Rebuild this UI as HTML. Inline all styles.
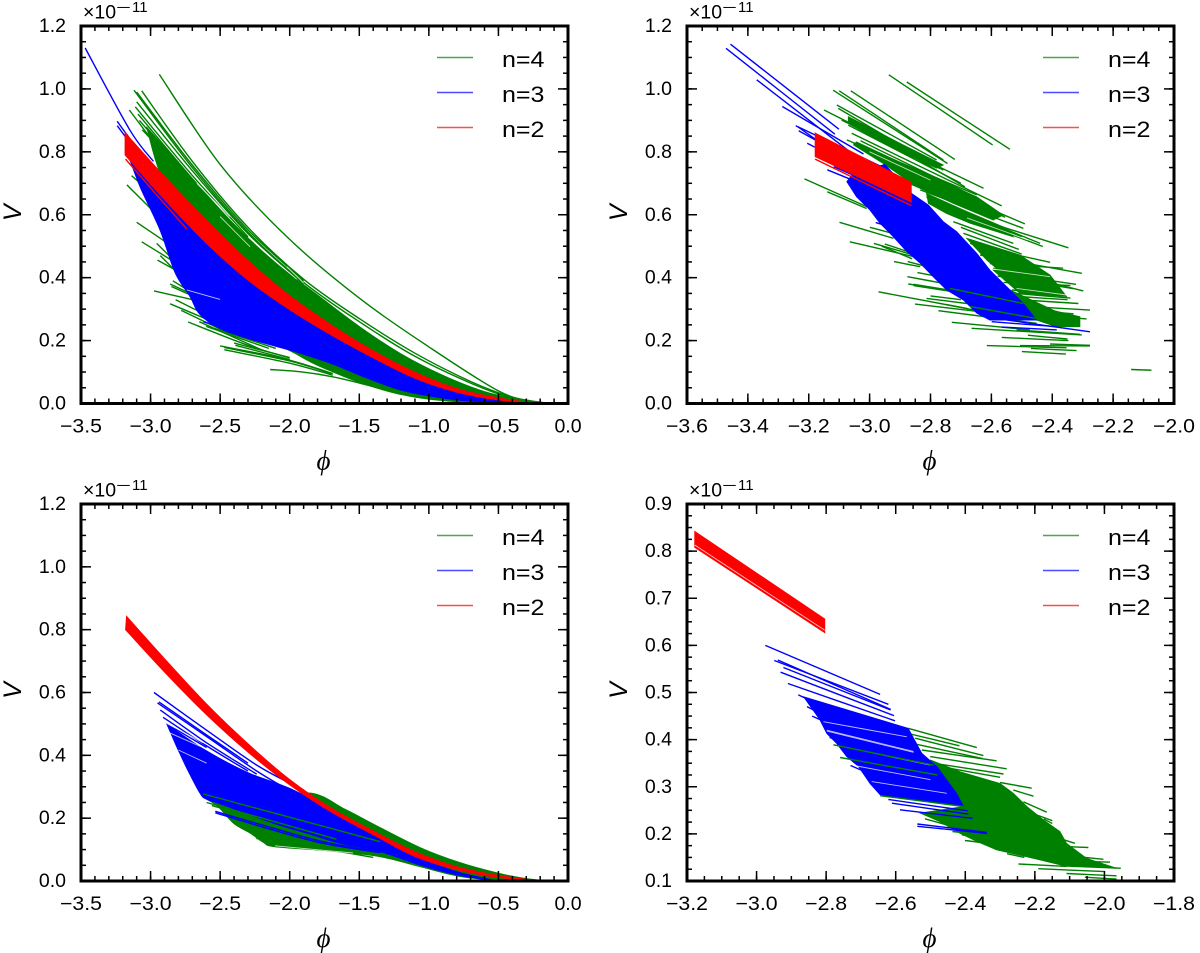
<!DOCTYPE html>
<html>
<head>
<meta charset="utf-8">
<title>Potential V versus phi for n=2,3,4</title>
<style>
html,body{margin:0;padding:0;background:#fff;}
svg{display:block;}
text{font-family:"Liberation Sans",sans-serif;fill:#000;}
</style>
</head>
<body>
<svg id="fig" xmlns="http://www.w3.org/2000/svg" width="1200" height="953" viewBox="0 0 1200 953"></svg>
<script>
/* ---------- values: phi, V(×1e-11) pairs ---------- */
const seriesNames = ["n=4", "n=3", "n=2"];

const panel1XTicks = [-3.5,-3.0,-2.5,-2.0,-1.5,-1.0,-0.5,0.0];
const panel1YTicks = [0.0,0.2,0.4,0.6,0.8,1.0,1.2];
const panel2XTicks = [-3.6,-3.4,-3.2,-3.0,-2.8,-2.6,-2.4,-2.2,-2.0];
const panel2YTicks = [0.0,0.2,0.4,0.6,0.8,1.0,1.2];
const panel3XTicks = [-3.5,-3.0,-2.5,-2.0,-1.5,-1.0,-0.5,0.0];
const panel3YTicks = [0.0,0.2,0.4,0.6,0.8,1.0,1.2];
const panel4XTicks = [-3.2,-3.0,-2.8,-2.6,-2.4,-2.2,-2.0,-1.8];
const panel4YTicks = [0.1,0.2,0.3,0.4,0.5,0.6,0.7,0.8,0.9];

/* Panel 1: curved bands are [upper edge, lower edge] */
const panel1GreenBands = [
 [[-3.03,0.88,-2.7,0.715,-2.4,0.57,-2.1,0.447,-1.8,0.345,-1.5,0.245,-1.2,0.158,-0.9,0.09,-0.6,0.038,-0.3,0.008,-0.13,0],
  [-3.03,0.88,-2.9,0.70,-2.6,0.50,-2.3,0.26,-1.926,0.15,-1.69,0.10,-1.447,0.059,-1.207,0.029,-0.97,0.012,-0.6,0.001,-0.13,0]]
];
const panel1GreenLines = [
 [-2.937,1.046,-2.5,0.76,-2.02,0.53,-1.5,0.335,-1.0,0.18,-0.5,0.04,-0.25,0.006,-0.13,0],
 [-3.064,0.994,-2.7,0.77,-2.3,0.56,-1.9,0.395,-1.5,0.27,-1.1,0.16,-0.7,0.07,-0.4,0.02,-0.13,0],
 [-3.119,0.996,-2.7,0.75,-2.3,0.545,-1.9,0.385,-1.5,0.26,-1.1,0.15,-0.7,0.065,-0.4,0.017,-0.13,0],
 [-3.10,0.99,-2.7,0.758,-2.3,0.552,-1.9,0.39],
 [-3.10,0.959,-2.7,0.74,-2.3,0.54,-1.9,0.38],
 [-3.11,0.943,-2.7,0.725,-2.3,0.53],
 [-3.153,0.933,-2.8,0.73,-2.4,0.53],
 [-3.09,0.92,-2.7,0.715,-2.3,0.52,-1.9,0.37],
 [-3.08,0.90,-2.7,0.705,-2.3,0.51],
 [-3.06,0.87,-2.7,0.70,-2.3,0.505],
 [-3.136,0.724,-3.004,0.673],
 [-3.17,0.695,-3.0,0.62],
 [-3.10,0.576,-2.84,0.498],
 [-3.064,0.514,-2.85,0.456],
 [-2.956,0.509,-2.86,0.467],
 [-2.95,0.456,-2.82,0.424],
 [-2.93,0.47,-2.84,0.43],
 [-2.86,0.38,-2.74,0.355],
 [-2.85,0.372,-2.73,0.348],
 [-2.84,0.39,-2.73,0.36],
 [-2.975,0.358,-2.705,0.331],
 [-2.86,0.317,-2.50,0.25],
 [-2.82,0.33,-2.55,0.27],
 [-2.78,0.296,-2.40,0.215],
 [-2.73,0.259,-2.30,0.185,-2.0,0.145],
 [-2.65,0.26,-2.20,0.17],
 [-2.60,0.245,-2.15,0.175],
 [-2.55,0.24,-2.10,0.175],
 [-2.50,0.183,-2.02,0.14,-1.69,0.095],
 [-2.47,0.171,-2.0,0.128,-1.69,0.09],
 [-2.47,0.178,-2.0,0.135,-1.7,0.095],
 [-2.40,0.192,-2.0,0.146],
 [-2.39,0.185,-2.0,0.14],
 [-2.14,0.108,-1.926,0.101,-1.69,0.085,-1.447,0.059,-1.207,0.03]
];
const panel1GreenGaps = [
 [-2.668,0.70,-2.43,0.594],
 [-2.5,0.594,-2.285,0.498],
 [-2.2,0.49,-1.95,0.395],
 [-2.02,0.435,-1.9,0.383]
];
const panel1BlueBands = [
 [[-3.17,0.80,-2.9,0.68,-2.6,0.54,-2.3,0.42,-2.0,0.32,-1.7,0.235,-1.4,0.155,-1.1,0.09,-0.8,0.04,-0.5,0.012,-0.3,0],
  [-3.17,0.80,-3.076,0.689,-2.932,0.551,-2.824,0.415,-2.717,0.34,-2.65,0.285,-2.51,0.24,-2.29,0.205,-1.926,0.16,-1.69,0.125,-1.447,0.081,-1.207,0.043,-0.97,0.022,-0.727,0.008,-0.3,0]]
];
const panel1BlueLines = [
 [-3.47,1.13,-3.15,0.87,-2.98,0.77],
 [-3.24,0.897,-3.05,0.78],
 [-3.24,0.883,-3.05,0.77],
 [-3.17,0.855,-3.0,0.74],
 [-3.12,0.745,-2.85,0.60,-2.6,0.49],
 [-2.62,0.26,-2.2,0.20]
];
const panel1BlueGaps = [
 [-2.74,0.361,-2.50,0.331]
];
const panel1RedBands = [
 [[-3.184,0.861,-2.9,0.722,-2.6,0.585,-2.3,0.455,-2.0,0.343,-1.7,0.25,-1.4,0.168,-1.1,0.10,-0.8,0.048,-0.5,0.018,-0.2,0],
  [-3.184,0.79,-2.9,0.648,-2.6,0.51,-2.3,0.392,-2.0,0.298,-1.7,0.217,-1.4,0.145,-1.1,0.08,-0.8,0.036,-0.5,0.011,-0.2,0]]
];
const panel1RedLines = [
 [-3.18,0.777,-2.95,0.66,-2.74,0.555]
];

/* Panel 2 */
const panel2GreenBands = [
 [-3.07,0.912,-2.9,0.827,-2.758,0.758,-2.78,0.748,-2.911,0.806,-3.07,0.89],
 [-3.043,0.832,-2.834,0.737,-2.648,0.657,-2.561,0.599,-2.594,0.583,-2.725,0.636,-2.845,0.689,-2.955,0.763,-3.053,0.822],
 [-2.813,0.668,-2.692,0.615,-2.55,0.557,-2.528,0.53,-2.67,0.573,-2.747,0.604,-2.807,0.636],
 [-2.681,0.525,-2.506,0.472,-2.407,0.408,-2.451,0.387,-2.539,0.393,-2.615,0.456],
 [-2.594,0.424,-2.407,0.408,-2.353,0.34,-2.506,0.35],
 [-2.539,0.361,-2.375,0.287,-2.386,0.244,-2.451,0.265],
 [-2.451,0.308,-2.309,0.276,-2.309,0.244,-2.396,0.244]
];
const panel2GreenLines = [
 [-2.937,1.045,-2.596,0.822],
 [-2.878,1.022,-2.539,0.808],
 [-3.062,0.994,-2.72,0.776],
 [-3.12,0.996,-2.744,0.763],
 [-3.10,0.994,-2.758,0.774],
 [-3.15,0.933,-2.769,0.747],
 [-3.108,0.949,-2.78,0.774],
 [-3.103,0.938,-2.758,0.742],
 [-3.092,0.901,-2.626,0.684],
 [-3.059,0.859,-2.566,0.628],
 [-2.977,0.853,-2.687,0.689],
 [-3.075,0.838,-2.648,0.663],
 [-3.053,0.827,-2.555,0.592],
 [-3.07,0.885,-2.70,0.70],
 [-3.03,0.835,-2.65,0.655],
 [-2.955,0.763,-2.49,0.571],
 [-2.90,0.72,-2.58,0.60],
 [-2.87,0.70,-2.60,0.59],
 [-2.834,0.679,-2.495,0.557],
 [-2.813,0.657,-2.44,0.509],
 [-2.79,0.64,-2.50,0.53],
 [-2.747,0.615,-2.431,0.499],
 [-2.703,0.604,-2.347,0.495],
 [-2.725,0.578,-2.528,0.509],
 [-2.70,0.56,-2.51,0.49],
 [-2.692,0.541,-2.50,0.475],
 [-2.648,0.50,-2.407,0.449],
 [-2.67,0.509,-2.484,0.445],
 [-2.637,0.472,-2.303,0.414],
 [-2.605,0.445,-2.364,0.43],
 [-2.594,0.43,-2.298,0.358],
 [-2.572,0.414,-2.322,0.379],
 [-2.58,0.405,-2.33,0.365],
 [-2.56,0.385,-2.34,0.375],
 [-2.533,0.361,-2.358,0.345],
 [-2.52,0.35,-2.34,0.335],
 [-2.495,0.329,-2.314,0.318],
 [-2.51,0.34,-2.35,0.33],
 [-2.473,0.308,-2.276,0.297],
 [-2.46,0.295,-2.33,0.285],
 [-2.451,0.281,-2.287,0.269],
 [-2.44,0.265,-2.314,0.26],
 [-2.971,0.355,-2.681,0.302],
 [-2.851,0.316,-2.495,0.276],
 [-2.774,0.295,-2.451,0.255],
 [-2.73,0.258,-2.473,0.234],
 [-2.665,0.239,-2.303,0.218],
 [-2.517,0.234,-2.309,0.22],
 [-2.566,0.21,-2.347,0.20],
 [-2.48,0.217,-2.35,0.205],
 [-2.615,0.184,-2.353,0.177],
 [-2.506,0.184,-2.276,0.183],
 [-2.5,0.165,-2.355,0.157],
 [-2.47,0.175,-2.32,0.168],
 [-2.407,0.189,-2.276,0.185],
 [-2.141,0.108,-2.074,0.106],
 [-3.214,0.714,-3.01,0.626],
 [-3.139,0.673,-3.01,0.62],
 [-3.099,0.576,-2.922,0.525],
 [-2.999,0.56,-2.922,0.54],
 [-3.065,0.514,-2.856,0.467],
 [-2.986,0.509,-2.856,0.472],
 [-2.95,0.507,-2.856,0.477],
 [-2.96,0.50,-2.86,0.46],
 [-2.92,0.451,-2.834,0.435],
 [-2.875,0.451,-2.81,0.435],
 [-2.843,0.416,-2.769,0.403],
 [-2.876,0.403,-2.758,0.382],
 [-2.873,0.38,-2.747,0.361],
 [-2.856,0.379,-2.703,0.355],
 [-2.856,0.375,-2.703,0.352],
 [-2.813,0.334,-2.681,0.318],
 [-2.80,0.342,-2.70,0.33],
 [-2.75,0.315,-2.62,0.29]
];
const panel2GreenGaps = [
 [-2.615,0.43,-2.407,0.403],
 [-2.517,0.366,-2.353,0.345],
 [-2.68,0.59,-2.48,0.52],
 [-3.0,0.80,-2.80,0.71]
];
const panel2BlueBands = [
 [-3.053,0.732,-3.075,0.705,-3.043,0.657,-2.999,0.615,-2.966,0.573,-2.922,0.53,-2.878,0.483,-2.834,0.446,-2.791,0.403,-2.747,0.361,-2.692,0.329,-2.648,0.287,-2.605,0.265,-2.451,0.265,-2.495,0.318,-2.539,0.361,-2.605,0.424,-2.648,0.477,-2.714,0.546,-2.758,0.578,-2.807,0.631,-2.862,0.668,-2.95,0.76]
];
const panel2BlueLines = [
 [-3.472,1.129,-3.114,0.856],
 [-3.457,1.142,-3.101,0.872],
 [-3.371,1.029,-3.07,0.804],
 [-3.287,0.944,-3.02,0.793],
 [-3.243,0.883,-2.957,0.751],
 [-3.233,0.867,-3.07,0.78],
 [-3.236,0.88,-3.15,0.82],
 [-3.205,0.827,-3.18,0.815],
 [-3.139,0.743,-2.863,0.634],
 [-3.118,0.753,-2.863,0.645],
 [-2.98,0.575,-2.89,0.55],
 [-2.626,0.276,-2.276,0.228],
 [-2.599,0.26,-2.385,0.244],
 [-2.566,0.243,-2.385,0.234]
];
const panel2TopGreenLines = [
 [-2.736,0.366,-2.495,0.318],
 [-2.67,0.308,-2.451,0.27]
];
const panel2RedBands = [
 [-3.179,0.86,-2.863,0.703,-2.863,0.64,-3.179,0.785]
];
const panel2RedLines = [
 [-3.179,0.777,-2.863,0.629]
];

/* Panel 3 */
const panel3GreenBands = [
 [[-2.597,0.26,-2.2,0.26,-1.85,0.28,-1.6,0.228,-1.35,0.17,-1.06,0.106,-0.785,0.06,-0.5,0.025,-0.3,0.008,-0.126,0],
  [-2.597,0.26,-2.513,0.236,-2.405,0.184,-2.285,0.152,-2.19,0.123,-2.106,0.109,-1.7,0.095,-1.35,0.077,-1.06,0.045,-0.785,0.015,-0.51,0.003,-0.126,0]]
];
const panel3GreenLines = [
 [-2.106,0.112,-1.7,0.097,-1.4,0.075],
 [-2.56,0.24,-2.40,0.22],
 [-2.45,0.21,-2.30,0.19],
 [-2.35,0.17,-2.20,0.16],
 [-2.24,0.135,-2.10,0.13]
];
const panel3GreenGaps = [
 [-2.106,0.112,-1.545,0.089]
];
const panel3BlueBands = [
 [[-2.884,0.50,-2.6,0.415,-2.3,0.345,-2.0,0.295,-1.7,0.225,-1.4,0.145,-1.1,0.078,-0.8,0.03,-0.5,0],
  [-2.884,0.50,-2.812,0.427,-2.74,0.359,-2.645,0.279,-2.597,0.26,-2.477,0.242,-2.118,0.184,-1.878,0.152,-1.64,0.12,-1.35,0.093,-1.06,0.05,-0.785,0.018,-0.5,0]]
];
const panel3BlueLines = [
 [-2.975,0.60,-2.597,0.48,-2.237,0.369,-1.95,0.30],
 [-2.95,0.567,-2.597,0.46,-2.237,0.35,-1.97,0.28],
 [-2.94,0.57,-2.597,0.465,-2.3,0.375],
 [-2.93,0.544,-2.597,0.44,-2.237,0.34],
 [-2.91,0.521,-2.597,0.43,-2.3,0.35],
 [-2.884,0.50,-2.597,0.425],
 [-2.535,0.217,-2.118,0.162,-1.76,0.12,-1.35,0.09],
 [-2.535,0.222,-2.118,0.168,-1.76,0.125,-1.35,0.092],
 [-2.62,0.27,-2.3,0.22]
];
const panel3BlueGaps = [
 [-2.80,0.417,-2.597,0.375],
 [-2.88,0.475,-2.60,0.42],
 [-2.90,0.505,-2.62,0.44]
];
const panel3DarkLines = [
 [-2.62,0.277,-1.35,0.125],
 [-2.597,0.25,-1.664,0.133]
];
const panel3RedBands = [
 [[-3.173,0.843,-2.9,0.708,-2.6,0.565,-2.3,0.437,-2.0,0.323,-1.7,0.232,-1.4,0.16,-1.1,0.094,-0.8,0.046,-0.5,0.018,-0.2,0],
  [-3.18,0.80,-2.9,0.665,-2.6,0.53,-2.3,0.41,-2.0,0.306,-1.7,0.219,-1.4,0.147,-1.1,0.078,-0.8,0.036,-0.5,0.011,-0.2,0]]
];
const panel3RedLines = [];

/* Panel 4 */
const panel4GreenBands = [
 [-2.501,0.357,-2.415,0.332,-2.30,0.307,-2.262,0.286,-2.223,0.258,-2.176,0.23,-2.128,0.205,-2.109,0.18,-2.051,0.148,-1.965,0.127,-2.109,0.131,-2.204,0.148,-2.31,0.166,-2.367,0.184,-2.415,0.201,-2.473,0.226,-2.53,0.244,-2.405,0.258,-2.482,0.343]
];
const panel4GreenLines = [
 [-2.564,0.424,-2.367,0.383],
 [-2.564,0.413,-2.417,0.387],
 [-2.544,0.403,-2.348,0.366],
 [-2.54,0.39,-2.35,0.36],
 [-2.525,0.378,-2.31,0.355],
 [-2.501,0.364,-2.281,0.338],
 [-2.492,0.35,-2.29,0.327],
 [-2.45,0.34,-2.30,0.32],
 [-2.30,0.309,-2.209,0.297],
 [-2.262,0.293,-2.204,0.28],
 [-2.233,0.268,-2.166,0.246],
 [-2.205,0.243,-2.15,0.228],
 [-2.175,0.232,-2.15,0.222],
 [-2.156,0.208,-2.13,0.205],
 [-2.128,0.19,-2.085,0.18],
 [-2.109,0.173,-2.046,0.171],
 [-2.08,0.152,-2.003,0.146],
 [-2.032,0.141,-1.984,0.14],
 [-2.013,0.13,-1.953,0.127],
 [-2.247,0.136,-2.109,0.131],
 [-2.19,0.126,-1.998,0.12],
 [-2.109,0.116,-1.965,0.111],
 [-2.056,0.108,-1.965,0.104],
 [-2.516,0.232,-2.453,0.219],
 [-2.437,0.205,-2.338,0.197],
 [-2.41,0.198,-2.348,0.19],
 [-2.401,0.186,-2.338,0.18],
 [-2.28,0.158,-2.23,0.15]
];
const panel4GreenGaps = [];
const panel4BlueBands = [
 [-2.865,0.491,-2.818,0.442,-2.798,0.413,-2.77,0.392,-2.741,0.364,-2.707,0.343,-2.674,0.307,-2.645,0.283,-2.405,0.258,-2.425,0.286,-2.482,0.343,-2.525,0.371,-2.564,0.424]
];
const panel4BlueLines = [
 [-2.975,0.60,-2.645,0.496],
 [-2.949,0.568,-2.621,0.475],
 [-2.939,0.569,-2.614,0.464],
 [-2.923,0.553,-2.615,0.463],
 [-2.931,0.543,-2.605,0.451],
 [-2.91,0.519,-2.602,0.44],
 [-2.88,0.495,-2.75,0.45],
 [-2.855,0.47,-2.75,0.43],
 [-2.84,0.45,-2.72,0.41],
 [-2.79,0.405,-2.68,0.37],
 [-2.73,0.345,-2.62,0.31],
 [-2.621,0.273,-2.393,0.249],
 [-2.611,0.265,-2.391,0.242],
 [-2.588,0.251,-2.379,0.233],
 [-2.538,0.221,-2.338,0.203],
 [-2.538,0.216,-2.338,0.201]
];
const panel4BlueGaps = [
 [-2.798,0.42,-2.549,0.375],
 [-2.798,0.418,-2.549,0.373],
 [-2.808,0.438,-2.568,0.406],
 [-2.75,0.385,-2.501,0.346],
 [-2.669,0.311,-2.453,0.286],
 [-2.72,0.345,-2.50,0.315]
];
const panel4TopGreenLines = [
 [-2.779,0.389,-2.492,0.346],
 [-2.76,0.362,-2.48,0.325],
 [-2.645,0.281,-2.405,0.258]
];
const panel4RedBands = [
 [-3.178,0.842,-2.804,0.656,-2.804,0.627,-3.178,0.808]
];
const panel4RedLines = [];
const panel4RedGaps = [
 [-3.178,0.813,-2.804,0.632]
];

const panels = [
 {id:1,x0:81,x1:568,y0:26,y1:403.5,xMin:-3.5,xMax:0,yMin:0,yMax:1.2,xTicks:panel1XTicks,yTicks:panel1YTicks,xMinor:0.1,yMinor:0.05,yDec:1,
  layers:[[panel1GreenBands,panel1GreenLines,'#008000'],[panel1GreenGaps,null,'gap'],[panel1BlueBands,panel1BlueLines,'#0000ff'],[panel1BlueGaps,null,'gap'],[panel1RedBands,panel1RedLines,'#ff0000']]},
 {id:2,x0:687,x1:1174,y0:26,y1:403.5,xMin:-3.6,xMax:-2,yMin:0,yMax:1.2,xTicks:panel2XTicks,yTicks:panel2YTicks,xMinor:0.05,yMinor:0.05,yDec:1,
  layers:[[panel2GreenBands,panel2GreenLines,'#008000'],[panel2GreenGaps,null,'gap'],[panel2BlueBands,panel2BlueLines,'#0000ff'],[[],panel2TopGreenLines,'#008000'],[panel2RedBands,panel2RedLines,'#ff0000']]},
 {id:3,x0:81,x1:568,y0:504,y1:881,xMin:-3.5,xMax:0,yMin:0,yMax:1.2,xTicks:panel3XTicks,yTicks:panel3YTicks,xMinor:0.1,yMinor:0.05,yDec:1,
  layers:[[panel3GreenBands,panel3GreenLines,'#008000'],[panel3GreenGaps,null,'gap'],[panel3BlueBands,panel3BlueLines,'#0000ff'],[panel3BlueGaps,null,'gap'],[[],panel3DarkLines,'#008000'],[panel3RedBands,panel3RedLines,'#ff0000']]},
 {id:4,x0:687,x1:1174,y0:504,y1:881,xMin:-3.2,xMax:-1.8,yMin:0.1,yMax:0.9,xTicks:panel4XTicks,yTicks:panel4YTicks,xMinor:0.05,yMinor:0.025,yDec:1,
  layers:[[panel4GreenBands,panel4GreenLines,'#008000'],[panel4GreenGaps,null,'gap'],[panel4BlueBands,panel4BlueLines,'#0000ff'],[panel4BlueGaps,null,'gap'],[[],panel4TopGreenLines,'#008000'],[panel4RedBands,panel4RedLines,'#ff0000'],[panel4RedGaps,null,'gap']]}
];

const NS = 'http://www.w3.org/2000/svg';
const fig = document.getElementById('fig');
const legendColors = ['#008000','#0000ff','#ff0000'];

function make(tag, attrs, parent){
  const el = document.createElementNS(NS, tag);
  for (const k in attrs) el.setAttribute(k, attrs[k]);
  parent.appendChild(el);
  return el;
}
function fmt(v, d){
  const s = Math.abs(v).toFixed(d);
  return v < -1e-9 ? '\u2212' + s : s;
}
function toPixels(flat, sx, sy){
  const out = [];
  for (let i = 0; i + 1 < flat.length; i += 2) out.push([sx(flat[i]), sy(flat[i+1])]);
  return out;
}
/* smooth curve through the read points (Catmull-Rom converted to cubic Bezier) */
function smooth(p){
  let d = '';
  for (let i = 0; i < p.length - 1; i++) {
    const a = p[Math.max(i-1,0)], b = p[i], c = p[i+1], e = p[Math.min(i+2,p.length-1)];
    const c1x = b[0] + (c[0]-a[0])/6, c1y = b[1] + (c[1]-a[1])/6;
    const c2x = c[0] - (e[0]-b[0])/6, c2y = c[1] - (e[1]-b[1])/6;
    d += 'C' + c1x.toFixed(1) + ' ' + c1y.toFixed(1) + ' ' + c2x.toFixed(1) + ' ' + c2y.toFixed(1) + ' ' + c[0].toFixed(1) + ' ' + c[1].toFixed(1);
  }
  return d;
}
function linePath(flat, sx, sy){
  const p = toPixels(flat, sx, sy);
  return 'M' + p[0][0].toFixed(1) + ' ' + p[0][1].toFixed(1) + smooth(p);
}
function bandPath(b, sx, sy){
  if (Array.isArray(b[0])) {
    const up = toPixels(b[0], sx, sy);
    const lo = toPixels(b[1], sx, sy).reverse();
    return 'M' + up[0][0].toFixed(1) + ' ' + up[0][1].toFixed(1) + smooth(up) +
           'L' + lo[0][0].toFixed(1) + ' ' + lo[0][1].toFixed(1) + smooth(lo) + 'Z';
  }
  const p = toPixels(b, sx, sy);
  return 'M' + p.map(function(q){ return q[0].toFixed(1) + ' ' + q[1].toFixed(1); }).join('L') + 'Z';
}

panels.forEach(function(p){
  const sx = function(v){ return p.x0 + (v - p.xMin) / (p.xMax - p.xMin) * (p.x1 - p.x0); };
  const sy = function(v){ return p.y1 - (v - p.yMin) / (p.yMax - p.yMin) * (p.y1 - p.y0); };

  const g = make('g', {}, fig);
  
  

  const clipId = 'clip' + p.id;
  const defs = make('defs', {}, g);
  const cp = make('clipPath', {id: clipId}, defs);
  make('rect', {x:p.x0, y:p.y0, width:p.x1-p.x0, height:p.y1-p.y0}, cp);

  const plot = make('g', {'clip-path':'url(#' + clipId + ')'}, g);
  
  

  p.layers.forEach(function(layer){
    const bands = layer[0], lines = layer[1], color = layer[2];
    if (color === 'gap') {
      bands.forEach(function(l){
        const gap = make('path', {d:linePath(l,sx,sy), fill:'none', stroke:'#ffffff', 'stroke-width':0.9, 'stroke-opacity':0.75}, plot);
        
        
      });
      return;
    }
    bands.forEach(function(b){
      const band = make('path', {d:bandPath(b,sx,sy), fill:color, stroke:color, 'stroke-width':0.8}, plot);
      
      
    });
    lines.forEach(function(l){
      const line = make('path', {d:linePath(l,sx,sy), fill:'none', stroke:color, 'stroke-width':1.4}, plot);
      
      
    });
  });

  const axes = make('g', {stroke:'#000', 'stroke-width':1.5, fill:'none'}, g);
  
  
  function tickX(v, len){
    const x = sx(v);
    make('line', {x1:x, x2:x, y1:p.y1, y2:p.y1-len}, axes);
    make('line', {x1:x, x2:x, y1:p.y0, y2:p.y0+len}, axes);
  }
  function tickY(v, len){
    const y = sy(v);
    make('line', {x1:p.x0, x2:p.x0+len, y1:y, y2:y}, axes);
    make('line', {x1:p.x1, x2:p.x1-len, y1:y, y2:y}, axes);
  }
  const nx = Math.round((p.xMax - p.xMin) / p.xMinor);
  for (let i = 1; i < nx; i++) tickX(p.xMin + i * p.xMinor, 5);
  const ny = Math.round((p.yMax - p.yMin) / p.yMinor);
  for (let i = 1; i < ny; i++) tickY(p.yMin + i * p.yMinor, 5);

  p.xTicks.forEach(function(v){
    tickX(v, 10);
    const neg = v < -1e-9;
    const attrs = {x:sx(v), y:p.y1+29, 'text-anchor':'middle', 'font-size':19.5};
    if (neg) { attrs.textLength = 42; attrs.lengthAdjust = 'spacingAndGlyphs'; }
    const t = make('text', attrs, g);
    t.textContent = fmt(v, 1);
    
    
  });
  p.yTicks.forEach(function(v){
    tickY(v, 10);
    const t = make('text', {x:p.x0-15, y:sy(v)+6, 'text-anchor':'end', 'font-size':19.5}, g);
    t.textContent = fmt(v, p.yDec);
    
    
  });

  const frame = make('rect', {x:p.x0, y:p.y0, width:p.x1-p.x0, height:p.y1-p.y0, fill:'none', stroke:'#000', 'stroke-width':3}, g);
  
  

  const off1 = make('text', {x:p.x0+2, y:p.y0-7.5, 'font-size':19.5}, g);
  off1.textContent = '\u00d710';
  
  
  const off2 = make('text', {x:p.x0+35, y:p.y0-14, 'font-size':14, textLength:15, lengthAdjust:'spacingAndGlyphs'}, g);
  off2.textContent = '\u2212';
  
  
  const off3 = make('text', {x:p.x0+51, y:p.y0-14, 'font-size':15}, g);
  off3.textContent = '11';
  
  

  const xl = make('text', {x:(p.x0+p.x1)/2-1, y:p.y1+66, 'text-anchor':'middle', 'font-size':27, 'font-style':'italic', style:'font-family:"Liberation Serif",serif'}, g);
  xl.textContent = '\u03d5';
  
  

  const yc = (p.y0 + p.y1) / 2 - 2;
  const ylx = p.x0 - 60;
  const yl = make('text', {x:ylx, y:yc, 'text-anchor':'middle', 'font-size':25, 'font-style':'italic', transform:'rotate(-90 ' + ylx + ' ' + yc + ')'}, g);
  yl.textContent = 'V';
  
  

  const legend = make('g', {}, g);
  
  
  seriesNames.forEach(function(name, i){
    const ly = p.y0 + 31.5 + i * 35;
    const sw = make('line', {x1:p.x1-131, x2:p.x1-95, y1:ly, y2:ly, stroke:legendColors[i], 'stroke-width':1.6, 'stroke-opacity':0.7}, legend);
    
    
    const t = make('text', {x:p.x1-66, y:ly+9.5, 'font-size':22.5, textLength:42.5, lengthAdjust:'spacingAndGlyphs'}, legend);
    t.textContent = name;
    
    
  });
});
</script>
</body>
</html>
